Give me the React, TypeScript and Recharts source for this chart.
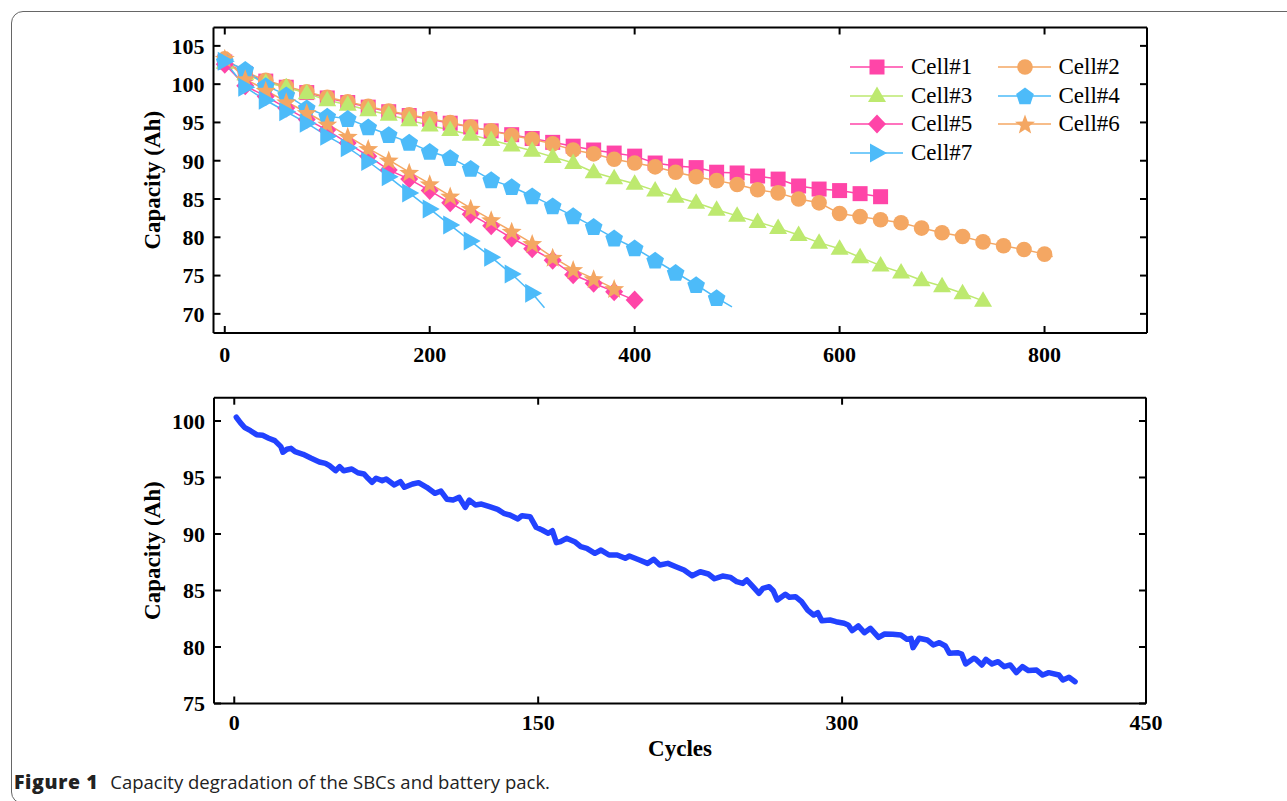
import React from 'react';
import { LineChart, Line, XAxis, YAxis, Legend } from 'recharts';

const SERIF = '"Liberation Serif", "Times New Roman", serif';
const PINK = '#ff45a8';
const ORANGE = '#f4a763';
const GREEN = '#bde96f';
const BLUE = '#4dbbf9';
const PACK_BLUE = '#2242ff';

// markers are every 20 cycles
const markCycles = [
  0, 20, 40, 60, 80, 100, 120, 140, 160, 180, 200, 220, 240, 260, 280, 300, 320, 340, 360, 380, 400,
  420, 440, 460, 480, 500, 520, 540, 560, 580, 600, 620, 640, 660, 680, 700, 720, 740, 760, 780, 800,
];

const cell1 = [
  102.9, 101.4, 100.4, 99.6, 98.9, 98.2, 97.6, 97.0, 96.4, 95.9, 95.4, 94.9, 94.4, 93.9, 93.4, 92.9,
  92.4, 91.9, 91.4, 91.0, 90.6, 89.7, 89.3, 89.1, 88.5, 88.4, 88.0, 87.6, 86.7, 86.3, 86.1, 85.7, 85.3,
];
const cell2 = [
  103.3, 101.6, 100.5, 99.7, 99.0, 98.3, 97.7, 97.1, 96.5, 96.0, 95.5, 95.0, 94.4, 93.9, 93.3, 92.8,
  92.2, 91.4, 90.9, 90.2, 89.7, 89.2, 88.5, 87.9, 87.4, 86.9, 86.2, 85.8, 85.0, 84.5, 83.1, 82.7, 82.3,
  81.9, 81.2, 80.6, 80.1, 79.4, 78.9, 78.4, 77.8,
];
const cell3 = [
  102.8, 101.3, 100.2, 99.6, 98.8, 97.9, 97.3, 96.6, 96.0, 95.3, 94.6, 94.0, 93.4, 92.7, 92.0, 91.3,
  90.5, 89.7, 88.5, 87.7, 87.0, 86.1, 85.3, 84.5, 83.6, 82.8, 82.0, 81.2, 80.3, 79.3, 78.5, 77.4, 76.3,
  75.4, 74.4, 73.6, 72.7, 71.7,
];
const cell4 = [
  103.0, 101.9, 99.8, 98.6, 96.9, 95.8, 95.5, 94.4, 93.4, 92.4, 91.2, 90.4, 89.0, 87.5, 86.6, 85.4,
  84.1, 82.8, 81.4, 79.9, 78.6, 77.0, 75.4, 73.8, 72.1,
];
const cell5 = [
  102.6, 99.8, 98.4, 96.9, 95.4, 94.0, 92.3, 90.6, 88.8, 87.6, 86.1, 84.5, 83.0, 81.5, 79.9, 78.5,
  77.0, 75.1, 74.0, 72.9, 71.8,
];
const cell6 = [
  103.4, 100.7, 99.2, 97.7, 96.3, 94.8, 93.2, 91.6, 90.1, 88.5, 87.0, 85.4, 83.8, 82.3, 80.8, 79.2,
  77.4, 75.8, 74.6, 73.3,
];
const cell7 = [
  103.0, 99.6, 97.9, 96.4, 94.9, 93.2, 91.7, 89.9, 87.9, 85.8, 83.7, 81.6, 79.5, 77.4, 75.2, 72.7,
];

// where the thin line runs on past the last marker
const cell2Tail = [808, 77.5];
const cell4Tail = [495, 70.9];
const cell7Tail = [312, 70.8];

const topXTicks = [0, 200, 400, 600, 800];
const topYTicks = [70, 75, 80, 85, 90, 95, 100, 105];

// battery pack
const packCycles = [
  1, 3, 5, 8, 11, 14, 17, 20, 23, 24, 26, 28, 30, 34, 38, 42, 45, 47, 50, 52, 54, 58, 61, 64, 66, 68,
  70, 73, 75, 79, 82, 84, 88, 91, 95, 99, 102, 105, 108, 111, 114, 116, 119, 122, 126, 130, 133, 136,
  140, 142, 146, 149, 152, 155, 157, 159, 161, 164, 168, 171, 174, 178, 181, 185, 189, 193, 195, 200,
  204, 207, 210, 214, 218, 222, 226, 230, 234, 237, 241, 245, 248, 251, 253, 256, 259, 261, 264, 266,
  268, 272, 274, 277, 280, 283, 286, 288, 290, 294, 297, 301, 303, 305, 308, 311, 314, 318, 321, 325,
  329, 332, 334, 335, 338, 342, 345, 348, 351, 353, 357, 359, 361, 365, 366, 369, 371, 374, 377, 380,
  383, 386, 389, 392, 396, 399, 402, 407, 409, 412, 415,
];
const packCapacity = [
  100.33, 99.85, 99.44, 99.14, 98.79, 98.73, 98.47, 98.26, 97.73, 97.23, 97.5, 97.58, 97.28, 97.05,
  96.7, 96.37, 96.25, 96.04, 95.6, 95.96, 95.6, 95.75, 95.42, 95.31, 94.93, 94.57, 94.93, 94.72, 94.87,
  94.34, 94.63, 94.13, 94.42, 94.54, 94.13, 93.6, 93.8, 93.07, 93.0, 93.24, 92.36, 93.0, 92.57, 92.65,
  92.42, 92.18, 91.83, 91.68, 91.33, 91.62, 91.53, 90.59, 90.35, 90.06, 90.29, 89.23, 89.32, 89.62,
  89.32, 88.88, 88.73, 88.29, 88.58, 88.14, 88.14, 87.85, 88.05, 87.7, 87.4, 87.76, 87.26, 87.4, 87.1,
  86.81, 86.3, 86.66, 86.46, 86.04, 86.28, 86.16, 85.78, 85.63, 85.93, 85.34, 84.75, 85.19, 85.34,
  84.98, 84.16, 84.66, 84.4, 84.45, 84.01, 83.27, 82.83, 83.04, 82.33, 82.39, 82.24, 82.1, 81.95,
  81.45, 81.86, 81.27, 81.65, 80.85, 81.15, 81.12, 81.06, 80.68, 80.77, 79.94, 80.77, 80.62, 80.18,
  80.38, 80.09, 79.44, 79.5, 79.38, 78.5, 79.0, 78.91, 78.41, 78.91, 78.5, 78.7, 78.26, 78.41, 77.73,
  78.26, 77.91, 77.96, 77.52, 77.73, 77.52, 77.08, 77.32, 76.93,
];

const packXTicks = [0, 150, 300, 450];
const packYTicks = [75, 80, 85, 90, 95, 100];

type Shape = 'square' | 'circle' | 'triangle' | 'pentagon' | 'diamond' | 'star' | 'right';

const toPoints = (pts: number[][], x: number, y: number) =>
  pts.map(([dx, dy]) => `${x + dx},${y + dy}`).join(' ');

const polar = (n: number, outer: number, inner?: number) => {
  const pts: number[][] = [];
  const count = inner ? n * 2 : n;
  for (let i = 0; i < count; i++) {
    const r = inner && i % 2 === 1 ? inner : outer;
    const a = -Math.PI / 2 + (i * 2 * Math.PI) / count;
    pts.push([r * Math.cos(a), r * Math.sin(a)]);
  }
  return pts;
};

function Marker({ shape, x, y, color }: { shape: Shape; x: number; y: number; color: string }) {
  switch (shape) {
    case 'square':
      return <rect x={x - 7.5} y={y - 7.5} width={15} height={15} fill={color} />;
    case 'circle':
      return <circle cx={x} cy={y} r={7.8} fill={color} />;
    case 'triangle':
      return <polygon points={toPoints([[0, -9.5], [9, 6], [-9, 6]], x, y)} fill={color} />;
    case 'pentagon':
      return <polygon points={toPoints(polar(5, 9.3), x, y + 0.8)} fill={color} />;
    case 'diamond':
      return <polygon points={toPoints([[0, -9.5], [9, 0], [0, 9.5], [-9, 0]], x, y)} fill={color} />;
    case 'star':
      return <polygon points={toPoints(polar(5, 10.5, 4.4), x, y + 1)} fill={color} />;
    case 'right':
    default:
      return <polygon points={toPoints([[-7, -9.5], [10, 0], [-7, 9.5]], x, y)} fill={color} />;
  }
}

const cells: { name: string; values: number[]; tail?: number[]; shape: Shape; color: string }[] = [
  { name: 'Cell#1', values: cell1, shape: 'square', color: PINK },
  { name: 'Cell#2', values: cell2, tail: cell2Tail, shape: 'circle', color: ORANGE },
  { name: 'Cell#3', values: cell3, shape: 'triangle', color: GREEN },
  { name: 'Cell#4', values: cell4, tail: cell4Tail, shape: 'pentagon', color: BLUE },
  { name: 'Cell#5', values: cell5, shape: 'diamond', color: PINK },
  { name: 'Cell#6', values: cell6, shape: 'star', color: ORANGE },
  { name: 'Cell#7', values: cell7, tail: cell7Tail, shape: 'right', color: BLUE },
];

const cellData = (values: number[], tail?: number[]) => {
  const rows = values.map((v, i) => ({ cycle: markCycles[i], cap: v, mark: true }));
  if (tail) rows.push({ cycle: tail[0], cap: tail[1], mark: false });
  return rows;
};

const packData = packCycles.map((c, i) => ({ cycle: c, cap: packCapacity[i] }));

const tickStyle = { fill: '#000', fontSize: 22, fontWeight: 'bold', fontFamily: SERIF };
const axisStroke = { stroke: '#000', strokeWidth: 2 };
const blank = () => '';

function CellLegend() {
  return (
    <div style={{ position: 'relative', width: 300, height: 120, fontFamily: SERIF, fontSize: 23, color: '#000' }}>
      {cells.map((c, i) => (
        <div
          key={c.name}
          style={{
            position: 'absolute',
            left: (i % 2) * 147.5,
            top: Math.floor(i / 2) * 28.5,
            height: 30,
            display: 'flex',
            alignItems: 'center',
            whiteSpace: 'nowrap',
          }}
        >
          <svg width={54} height={30} style={{ display: 'block' }}>
            <line x1={0} y1={15} x2={53} y2={15} stroke={c.color} strokeWidth={1.5} />
            <Marker shape={c.shape} x={27} y={15} color={c.color} />
          </svg>
          <span style={{ marginLeft: 7, lineHeight: '30px' }}>{c.name}</span>
        </div>
      ))}
    </div>
  );
}

const yTitle = (props: any) => {
  const { viewBox } = props;
  const x = viewBox.x + viewBox.width - 61;
  const y = viewBox.y + viewBox.height / 2;
  return (
    <text
      x={x}
      y={y}
      transform={`rotate(-90 ${x} ${y})`}
      textAnchor="middle"
      dominantBaseline="central"
      fontFamily={SERIF}
      fontSize={23}
      fontWeight="bold"
      fill="#000"
    >
      Capacity (Ah)
    </text>
  );
};

const xTitle = (props: any) => {
  const { viewBox } = props;
  return (
    <text
      x={viewBox.x + viewBox.width / 2}
      y={viewBox.y + 44.5}
      textAnchor="middle"
      dominantBaseline="central"
      fontFamily={SERIF}
      fontSize={23}
      fontWeight="bold"
      fill="#000"
    >
      Cycles
    </text>
  );
};

function CellsChart() {
  return (
    <LineChart width={1287} height={380} margin={{ top: 26.5, right: 139, bottom: 46, left: 212.5 }}>
      <XAxis
        xAxisId="b"
        dataKey="cycle"
        type="number"
        domain={[-11, 900]}
        ticks={topXTicks}
        allowDataOverflow
        height={1}
        tick={tickStyle}
        tickSize={-7}
        tickMargin={20}
        axisLine={axisStroke}
        tickLine={axisStroke}
      />
      <XAxis
        xAxisId="t"
        orientation="top"
        dataKey="cycle"
        type="number"
        domain={[-11, 900]}
        ticks={topXTicks}
        allowDataOverflow
        height={1}
        tickFormatter={blank}
        tickSize={-7}
        axisLine={axisStroke}
        tickLine={axisStroke}
      />
      <YAxis
        yAxisId="l"
        type="number"
        domain={[67.5, 107.4]}
        ticks={topYTicks}
        allowDataOverflow
        width={1}
        tick={tickStyle}
        tickSize={-7}
        tickMargin={16}
        axisLine={axisStroke}
        tickLine={axisStroke}
        label={{ content: yTitle }}
      />
      <YAxis
        yAxisId="r"
        orientation="right"
        type="number"
        domain={[67.5, 107.4]}
        ticks={topYTicks}
        allowDataOverflow
        width={1}
        tickFormatter={blank}
        tickSize={-7}
        axisLine={axisStroke}
        tickLine={axisStroke}
      />
      <Legend
        layout="horizontal"
        verticalAlign="middle"
        align="center"
        wrapperStyle={{ left: 850, top: 52, width: 300, height: 120 }}
        content={() => <CellLegend />}
      />
      {cells.map((c) => (
        <Line
          key={c.name}
          xAxisId="b"
          yAxisId="l"
          name={c.name}
          data={cellData(c.values, c.tail)}
          dataKey="cap"
          type="linear"
          stroke={c.color}
          strokeWidth={1.5}
          isAnimationActive={false}
          dot={(p: any) =>
            p.payload && p.payload.mark && p.cx != null ? (
              <Marker key={`${c.name}-${p.index}`} shape={c.shape} x={p.cx} y={p.cy} color={c.color} />
            ) : (
              <g key={`${c.name}-${p.index}`} />
            )
          }
          activeDot={false}
        />
      ))}
    </LineChart>
  );
}

function PackChart() {
  return (
    <LineChart width={1287} height={421} data={packData} margin={{ top: 16.7, right: 140, bottom: 96.5, left: 213 }}>
      <XAxis
        xAxisId="b"
        dataKey="cycle"
        type="number"
        domain={[-10, 450]}
        ticks={packXTicks}
        allowDataOverflow
        height={1}
        tick={tickStyle}
        tickSize={-7}
        tickMargin={17.5}
        axisLine={axisStroke}
        tickLine={axisStroke}
        label={{ content: xTitle }}
      />
      <XAxis
        xAxisId="t"
        orientation="top"
        dataKey="cycle"
        type="number"
        domain={[-10, 450]}
        ticks={packXTicks}
        allowDataOverflow
        height={1}
        tickFormatter={blank}
        tickSize={-7}
        axisLine={axisStroke}
        tickLine={axisStroke}
      />
      <YAxis
        yAxisId="l"
        type="number"
        domain={[75, 102.06]}
        ticks={packYTicks}
        allowDataOverflow
        width={1}
        tick={tickStyle}
        tickSize={-7}
        tickMargin={16}
        axisLine={axisStroke}
        tickLine={axisStroke}
        label={{ content: yTitle }}
      />
      <YAxis
        yAxisId="r"
        orientation="right"
        type="number"
        domain={[75, 102.06]}
        ticks={packYTicks}
        allowDataOverflow
        width={1}
        tickFormatter={blank}
        tickSize={-7}
        axisLine={axisStroke}
        tickLine={axisStroke}
      />
      <Line
        xAxisId="b"
        yAxisId="l"
        dataKey="cap"
        type="linear"
        stroke={PACK_BLUE}
        strokeWidth={5.5}
        strokeLinejoin="round"
        strokeLinecap="round"
        dot={false}
        activeDot={false}
        isAnimationActive={false}
      />
    </LineChart>
  );
}

export default function App() {
  return (
    <div
      style={{
        position: 'absolute',
        left: 0,
        top: 0,
        width: 1287,
        height: 801,
        overflow: 'hidden',
        background: '#fff',
        fontFamily: SERIF,
      }}
    >
      <div
        style={{
          position: 'absolute',
          left: 11,
          top: 11,
          width: 1320,
          height: 793,
          border: '1.5px solid #666',
          borderRadius: 12,
          boxSizing: 'border-box',
        }}
      />
      <div style={{ position: 'absolute', left: 0, top: 0 }}>
        <CellsChart />
      </div>
      <div style={{ position: 'absolute', left: 0, top: 380 }}>
        <PackChart />
      </div>
      <div
        style={{
          position: 'absolute',
          left: 14,
          top: 769,
          fontFamily: '"Open Sans", "Noto Sans", sans-serif',
          fontSize: 18.5,
          lineHeight: '26px',
          color: '#222',
          whiteSpace: 'nowrap',
        }}
      >
        <span style={{ fontWeight: 800, fontSize: 19.5, letterSpacing: 0.6 }}>Figure 1</span>
        <span style={{ marginLeft: 12 }}>Capacity degradation of the SBCs and battery pack.</span>
      </div>
    </div>
  );
}
